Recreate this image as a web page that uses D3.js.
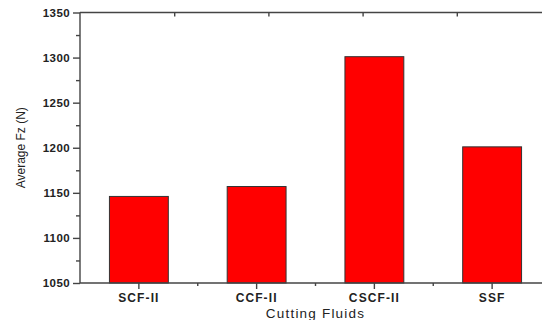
<!DOCTYPE html>
<html lang="en">
<head>
  <meta charset="UTF-8">
  <title>Average Fz by Cutting Fluid</title>
  <script src="https://d3js.org/d3.v7.min.js"></script>
  <style>
    body { margin: 0; background: #fff; }
    svg { display: block; font-family: "Liberation Sans", Arial, sans-serif; }
    .axis path, .axis line { stroke: #444; stroke-width: 1.4; }
    .axis text { fill: #222; }
    .bar { fill: #ff0000; stroke: #333; stroke-width: 1; }
  </style>
</head>
<body>
  <svg width="542" height="320"></svg>
  <script>
    // data
    const fluids = ['SCF-II', 'CCF-II', 'CSCF-II', 'SSF'];
    const avgFz = [1146, 1157, 1301, 1201];
    const yTicks = [1050, 1100, 1150, 1200, 1250, 1300, 1350];
    const yMinorTicks = [1075, 1125, 1175, 1225, 1275, 1325];

    const svg = d3.select('svg');
    const margin = { top: 12.5, left: 80 };
    const plotRight = 551;   // right frame falls just outside the picture
    const plotBottom = 283;

    const x = d3.scaleBand()
      .domain(fluids)
      .range([margin.left, plotRight])
      .paddingInner(0.5)
      .paddingOuter(0.25);

    const y = d3.scaleLinear()
      .domain([1050, 1350])
      .range([plotBottom, margin.top]);

    // top frame has its own evenly spaced ticks
    const xTop = d3.scaleLinear().domain([0, 5]).range([margin.left, plotRight]);

    // bars first so the axes sit on top
    svg.selectAll('rect.bar')
      .data(fluids)
      .enter().append('rect')
      .attr('class', 'bar')
      .attr('x', d => x(d))
      .attr('width', x.bandwidth())
      .attr('y', (d, i) => y(avgFz[i]))
      .attr('height', (d, i) => y(1050) - y(avgFz[i]));

    // left axis
    const yAxis = svg.append('g')
      .attr('class', 'axis')
      .attr('transform', `translate(${margin.left},0)`)
      .call(d3.axisLeft(y).tickValues(yTicks).tickSize(7).tickPadding(3).tickFormat(d3.format('d')));
    yAxis.select('.domain').attr('d', `M0,${plotBottom}V${margin.top}`);
    yAxis.selectAll('text')
      .style('font-size', '11.5px')
      .style('font-weight', 'bold')
      .style('letter-spacing', '0.4px');

    svg.append('g')
      .attr('class', 'axis')
      .attr('transform', `translate(${margin.left},0)`)
      .call(d3.axisLeft(y).tickValues(yMinorTicks).tickSize(4).tickFormat(''))
      .select('.domain').remove();

    // bottom axis
    const xAxis = svg.append('g')
      .attr('class', 'axis')
      .attr('transform', `translate(0,${plotBottom})`)
      .call(d3.axisBottom(x).tickSize(6).tickPadding(4));
    xAxis.select('.domain').attr('d', `M${margin.left},0H${plotRight}`);
    xAxis.selectAll('text')
      .style('font-size', '12px')
      .style('font-weight', 'bold')
      .style('letter-spacing', '1.1px');

    const minorX = d3.range(1, fluids.length).map(i => margin.left + i * x.step());
    svg.append('g')
      .attr('class', 'axis')
      .selectAll('line')
      .data(minorX)
      .enter().append('line')
      .attr('x1', d => d).attr('x2', d => d)
      .attr('y1', plotBottom).attr('y2', plotBottom + 3);

    // top frame
    const topAxis = svg.append('g')
      .attr('class', 'axis')
      .attr('transform', `translate(0,${margin.top})`)
      .call(d3.axisBottom(xTop).tickValues([1, 2, 3, 4]).tickSize(4).tickFormat(''));
    topAxis.select('.domain').attr('d', `M${margin.left},0H${plotRight}`);

    // axis titles
    svg.append('text')
      .attr('x', (margin.left + plotRight) / 2)
      .attr('y', 318)
      .attr('text-anchor', 'middle')
      .style('font-size', '13.5px')
      .style('letter-spacing', '1.2px')
      .style('fill', '#222')
      .text('Cutting Fluids');

    svg.append('text')
      .attr('transform', `translate(25,${(margin.top + plotBottom) / 2}) rotate(-90)`)
      .attr('text-anchor', 'middle')
      .style('font-size', '12px')
      .style('fill', '#222')
      .text('Average Fz (N)');
  </script>
</body>
</html>
